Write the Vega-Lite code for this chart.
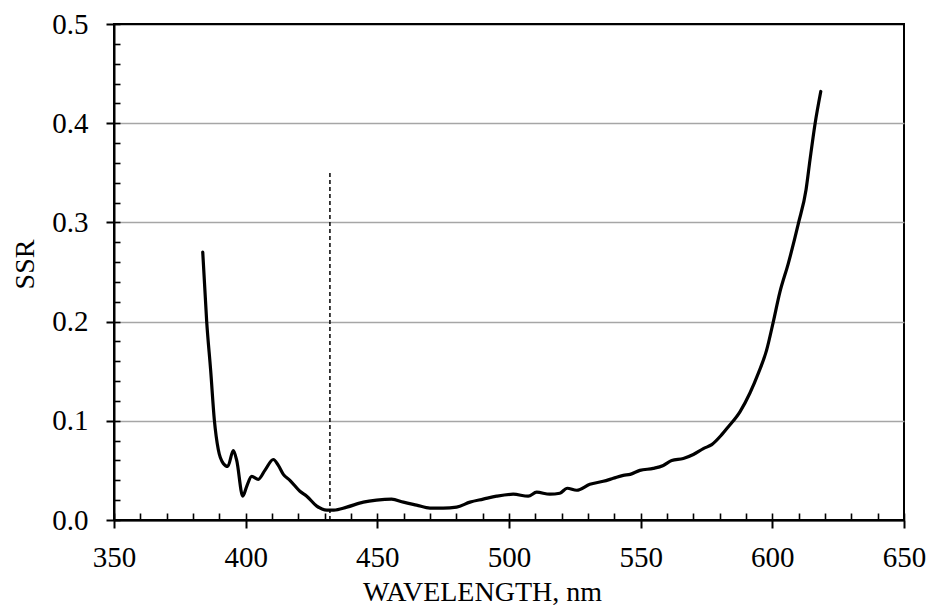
{
  "$schema": "https://vega.github.io/schema/vega-lite/v6.json",
  "width": 790,
  "height": 496,
  "autosize": {"type": "none"},
  "padding": {"left": 114, "top": 24, "right": 26, "bottom": 86},
  "background": "white",
  "config": {
    "view": {"stroke": "black", "strokeWidth": 2},
    "axis": {
      "labelFont": "Liberation Serif",
      "titleFont": "Liberation Serif",
      "labelColor": "black",
      "titleColor": "black",
      "titleFontWeight": "normal",
      "labelFontSize": 29,
      "titleFontSize": 28,
      "domainColor": "black",
      "tickColor": "black"
    }
  },
  "datasets": {
    "ssr": [
      {"wavelength": 383.7, "ssr": 0.270},
      {"wavelength": 385.2, "ssr": 0.200},
      {"wavelength": 386.7, "ssr": 0.151},
      {"wavelength": 388.1, "ssr": 0.101},
      {"wavelength": 389.6, "ssr": 0.071},
      {"wavelength": 391.5, "ssr": 0.057},
      {"wavelength": 393.2, "ssr": 0.054},
      {"wavelength": 395.3, "ssr": 0.070},
      {"wavelength": 396.6, "ssr": 0.060},
      {"wavelength": 398.9, "ssr": 0.024},
      {"wavelength": 400.4, "ssr": 0.034},
      {"wavelength": 402.3, "ssr": 0.044},
      {"wavelength": 404.8, "ssr": 0.041},
      {"wavelength": 407.3, "ssr": 0.050},
      {"wavelength": 410.5, "ssr": 0.061},
      {"wavelength": 412.4, "ssr": 0.055},
      {"wavelength": 414.3, "ssr": 0.046},
      {"wavelength": 416.8, "ssr": 0.040},
      {"wavelength": 420.6, "ssr": 0.029},
      {"wavelength": 423.2, "ssr": 0.024},
      {"wavelength": 427.0, "ssr": 0.014},
      {"wavelength": 430.8, "ssr": 0.010},
      {"wavelength": 433.5, "ssr": 0.010},
      {"wavelength": 438.4, "ssr": 0.013},
      {"wavelength": 444.7, "ssr": 0.018},
      {"wavelength": 449.7, "ssr": 0.020},
      {"wavelength": 455.4, "ssr": 0.021},
      {"wavelength": 459.9, "ssr": 0.018},
      {"wavelength": 464.9, "ssr": 0.015},
      {"wavelength": 470.0, "ssr": 0.012},
      {"wavelength": 475.0, "ssr": 0.012},
      {"wavelength": 480.1, "ssr": 0.013},
      {"wavelength": 485.2, "ssr": 0.018},
      {"wavelength": 490.2, "ssr": 0.021},
      {"wavelength": 495.3, "ssr": 0.024},
      {"wavelength": 501.6, "ssr": 0.026},
      {"wavelength": 507.3, "ssr": 0.024},
      {"wavelength": 510.5, "ssr": 0.028},
      {"wavelength": 515.5, "ssr": 0.026},
      {"wavelength": 519.3, "ssr": 0.027},
      {"wavelength": 522.1, "ssr": 0.032},
      {"wavelength": 525.7, "ssr": 0.030},
      {"wavelength": 530.7, "ssr": 0.036},
      {"wavelength": 535.8, "ssr": 0.039},
      {"wavelength": 539.6, "ssr": 0.042},
      {"wavelength": 543.4, "ssr": 0.045},
      {"wavelength": 546.0, "ssr": 0.046},
      {"wavelength": 549.7, "ssr": 0.050},
      {"wavelength": 554.8, "ssr": 0.052},
      {"wavelength": 558.6, "ssr": 0.055},
      {"wavelength": 561.8, "ssr": 0.060},
      {"wavelength": 566.2, "ssr": 0.062},
      {"wavelength": 570.0, "ssr": 0.066},
      {"wavelength": 573.8, "ssr": 0.072},
      {"wavelength": 577.0, "ssr": 0.076},
      {"wavelength": 580.8, "ssr": 0.086},
      {"wavelength": 583.3, "ssr": 0.094},
      {"wavelength": 587.7, "ssr": 0.109},
      {"wavelength": 591.5, "ssr": 0.128},
      {"wavelength": 594.7, "ssr": 0.148},
      {"wavelength": 597.8, "ssr": 0.171},
      {"wavelength": 600.3, "ssr": 0.199},
      {"wavelength": 602.8, "ssr": 0.229},
      {"wavelength": 606.1, "ssr": 0.259},
      {"wavelength": 609.9, "ssr": 0.299},
      {"wavelength": 612.8, "ssr": 0.333},
      {"wavelength": 614.3, "ssr": 0.363},
      {"wavelength": 616.2, "ssr": 0.399},
      {"wavelength": 618.4, "ssr": 0.432}
    ],
    "marker": [
      {"wavelength": 432, "lo": 0, "hi": 0.35}
    ]
  },
  "layer": [
    {
      "data": {"name": "ssr"},
      "mark": {"type": "line", "color": "black", "strokeWidth": 3.2, "interpolate": "monotone", "strokeCap": "round", "strokeJoin": "round"},
      "encoding": {
        "x": {
          "field": "wavelength",
          "type": "quantitative",
          "scale": {"domain": [350, 650], "nice": false, "zero": false},
          "axis": {
            "orient": "bottom",
            "values": [350, 400, 450, 500, 550, 600, 650],
            "tickSize": 8,
            "tickWidth": 2,
            "domainWidth": 2,
            "grid": false,
            "labelPadding": 15,
            "labelFlush": false,
            "labelOverlap": false,
            "title": "WAVELENGTH, nm",
            "titleX": 368,
            "titleY": 80,
            "titleAlign": "center",
            "titleBaseline": "alphabetic"
          }
        },
        "y": {
          "field": "ssr",
          "type": "quantitative",
          "scale": {"domain": [0, 0.5], "nice": false},
          "axis": {
            "orient": "left",
            "values": [0, 0.1, 0.2, 0.3, 0.4, 0.5],
            "format": ".1f",
            "tickSize": 8,
            "tickWidth": 2,
            "domainWidth": 2,
            "grid": true,
            "gridWidth": 1.3,
            "gridColor": {"condition": {"test": "datum.value >= 0.45 || datum.value <= 0.05", "value": "black"}, "value": "#a6a6a6"},
            "labelPadding": 18,
            "labelFlush": false,
            "labelOverlap": false,
            "title": "SSR",
            "titleX": -81,
            "titleY": 240,
            "titleAngle": -90,
            "titleAlign": "center",
            "titleBaseline": "alphabetic"
          }
        }
      }
    },
    {
      "data": {"name": "marker"},
      "mark": {"type": "rule", "color": "black", "strokeWidth": 1.5, "strokeDash": [4, 3]},
      "encoding": {
        "x": {
          "field": "wavelength",
          "type": "quantitative",
          "scale": {"domain": [350, 650], "nice": false, "zero": false},
          "axis": {
            "orient": "bottom",
            "values": [350, 360, 370, 380, 390, 400, 410, 420, 430, 440, 450, 460, 470, 480, 490, 500, 510, 520, 530, 540, 550, 560, 570, 580, 590, 600, 610, 620, 630, 640, 650],
            "tickSize": -7,
            "tickWidth": 1.6,
            "labels": false,
            "domain": false,
            "grid": false,
            "title": null
          }
        },
        "y": {
          "field": "lo",
          "type": "quantitative",
          "scale": {"domain": [0, 0.5], "nice": false},
          "axis": {
            "orient": "left",
            "values": [0, 0.02, 0.04, 0.06, 0.08, 0.1, 0.12, 0.14, 0.16, 0.18, 0.2, 0.22, 0.24, 0.26, 0.28, 0.3, 0.32, 0.34, 0.36, 0.38, 0.4, 0.42, 0.44, 0.46, 0.48, 0.5],
            "tickSize": -6,
            "tickWidth": 1.6,
            "labels": false,
            "domain": false,
            "grid": false,
            "title": null
          }
        },
        "y2": {"field": "hi"}
      }
    }
  ],
  "resolve": {"axis": {"x": "independent", "y": "independent"}}
}
